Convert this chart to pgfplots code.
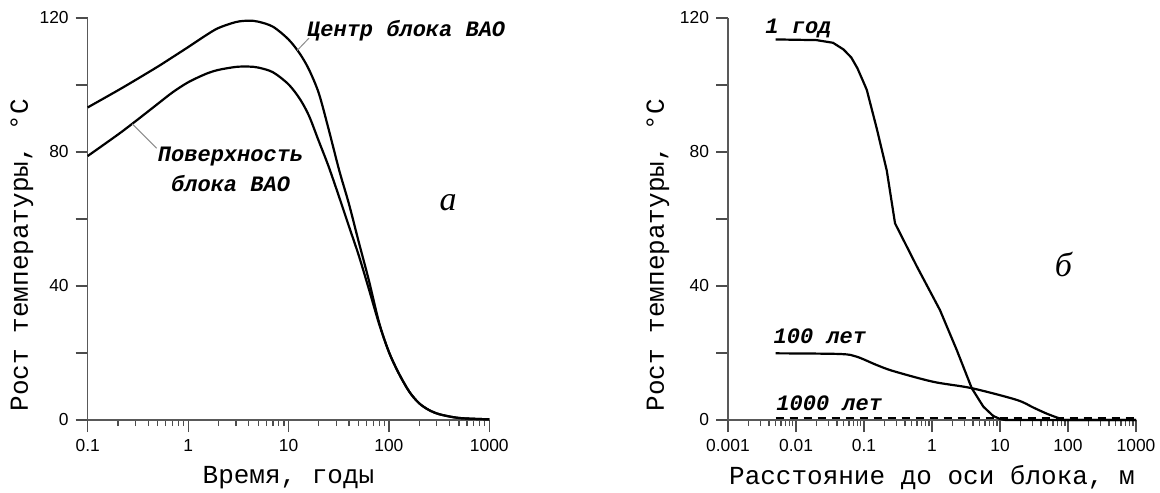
\documentclass[border=0pt]{standalone}
\usepackage{fontspec}
\setmainfont{Liberation Sans}
\newfontfamily\mono{Liberation Mono}
\newfontfamily\tms{Liberation Serif}
\usepackage{pgfplots}
\pgfplotsset{compat=1.18}

\pgfplotsset{
  panel/.style={
    scale only axis, height=201pt,
    axis x line=bottom, axis y line=left,
    axis line style={-, black!65, line width=0.6pt},
    tick style={black!70, line width=0.6pt},
    tick align=outside, major tick length=6pt, minor tick length=3pt,
    ymin=0, ymax=120,
    ytick={0,20,...,120}, yticklabels={0,,40,,80,,120},
    tick label style={font=\fontsize{8.7}{10}\selectfont},
    /pgf/number format/assume math mode=true,
    label style={font=\mono\fontsize{13}{15}\selectfont},
    clip=false,
  },
}
\tikzset{
  curve/.style={black, line width=1.1pt, smooth},
  tag/.style={font=\mono\bfseries\itshape\fontsize{11}{13}\selectfont, inner sep=0pt},
}

\begin{document}
\begin{tikzpicture}
\path[use as bounding box] (0,0) rectangle (580pt,246pt);

% --- a: temperature vs time ---
\begin{axis}[xmode=log, panel,
  at={(43.85pt,36pt)}, anchor=south west, width=200.8pt,
  xmin=0.1, xmax=1000,
  xtick={0.1,1,10,100,1000}, xticklabels={0.1,1,10,100,1000},
  minor xtick={0.2,0.3,0.4,0.5,0.6,0.7,0.8,0.9,2,3,4,5,6,7,8,9,20,30,40,50,60,70,80,90,200,300,400,500,600,700,800,900},
  xlabel={Время, годы},
  ylabel={Рост температуры, °С},
  xlabel style={at={(axis description cs:0.5,-0.144)}, anchor=center},
  ylabel style={at={(axis description cs:-0.164,0.41)}, anchor=center},
]
% centre of block
\addplot[curve] coordinates {
  (0.1,93.3) (0.2,98.4) (0.3,101.5) (0.5,105.5) (0.7,108.3) (1,111.3)
  (1.5,114.8) (2,117.0) (3,118.8) (4,119.2) (5,118.9) (7,117.4)
  (10,113.6) (13,109.3) (16,104.6) (20,97.6) (25,87) (32,74.5)
  (40,64.5) (50,53.2) (63,41.8) (80,29.0) (100,20.3) (125,14.0)
  (160,8.4) (200,5.0) (250,3.0) (320,1.7) (500,0.6) (1000,0.2)};
% surface of block
\addplot[curve] coordinates {
  (0.1,78.8) (0.2,85.2) (0.3,89.2) (0.5,94.4) (0.7,97.8) (1,100.8)
  (1.5,103.3) (2,104.5) (3,105.4) (4,105.5) (5,105.2) (7,103.8)
  (10,100.2) (13,95.8) (16,90.8) (20,83.3) (25,75.8) (32,66.5)
  (40,57.8) (50,49.2) (63,39.2) (80,28.6) (100,20.3) (125,14.0)
  (160,8.4) (200,5.0) (250,3.0) (320,1.7) (500,0.6) (1000,0.2)};

\draw[black!45, line width=0.5pt] (axis cs:12.2,110.3) -- (axis cs:16,114);
\draw[black!45, line width=0.5pt] (axis cs:0.278,88.4) -- (axis cs:0.486,81.1);
\node[tag, anchor=west] at (axis cs:15.2,116.2) {Центр блока ВАО};
\node[tag] at (axis cs:2.65,78.5) {Поверхность};
\node[tag] at (axis cs:2.65,70.7) {блока ВАО};
\node[font=\tms\itshape\fontsize{17}{19}\selectfont] at (axis cs:388,64.8) {a};
\end{axis}

% --- b: temperature vs distance ---
\begin{axis}[xmode=log, panel,
  at={(364pt,36pt)}, anchor=south west, width=204pt,
  xmin=0.001, xmax=1000,
  xtick={0.001,0.01,0.1,1,10,100,1000}, xticklabels={0.001,0.01,0.1,1,10,100,1000},
  minor xtick={0.002,0.003,0.004,0.005,0.006,0.007,0.008,0.009,
    0.02,0.03,0.04,0.05,0.06,0.07,0.08,0.09,0.2,0.3,0.4,0.5,0.6,0.7,0.8,0.9,
    2,3,4,5,6,7,8,9,20,30,40,50,60,70,80,90,200,300,400,500,600,700,800,900},
  xlabel={Расстояние до оси блока, м},
  ylabel={Рост температуры, °С},
  xlabel style={at={(axis description cs:0.5,-0.144)}, anchor=center},
  ylabel style={at={(axis description cs:-0.172,0.41)}, anchor=center},
]
% 1 year
\addplot[black, line width=1.1pt] coordinates {
  (0.005,113.6) (0.02,113.4) (0.035,112.6) (0.05,110.6) (0.065,108.2) (0.08,105)
  (0.1,100.5) (0.11,98.5) (0.154,87) (0.216,74.5) (0.286,58.7) (0.6,45.8)
  (1.31,32.8) (2.31,20.9) (3.84,9.5) (5.68,4) (7.95,1.2) (10,0.3) (12,0) (1000,0)};
% 100 years
\addplot[curve] coordinates {
  (0.005,19.9) (0.0444,19.7) (0.078,18.9) (0.154,16.4) (0.27,14.6) (1.045,11.4)
  (3.84,9.5) (17.6,6) (31,3.7) (50,1.8) (80,0.3) (100,0) (1000,0)};
% 1000 years
\addplot[black, line width=1.1pt, dash pattern=on 4pt off 3pt] coordinates {
  (0.005,0.5) (1000,0.5)};

\node[tag, anchor=west] at (axis cs:0.0035,116.9) {1 год};
\node[tag, anchor=west] at (axis cs:0.00464,24.9) {100 лет};
\node[tag, anchor=west] at (axis cs:0.00508,5) {1000 лет};
\node[font=\tms\itshape\fontsize{17}{19}\selectfont] at (axis cs:85.3,46.3) {б};
\end{axis}
\end{tikzpicture}
\end{document}
